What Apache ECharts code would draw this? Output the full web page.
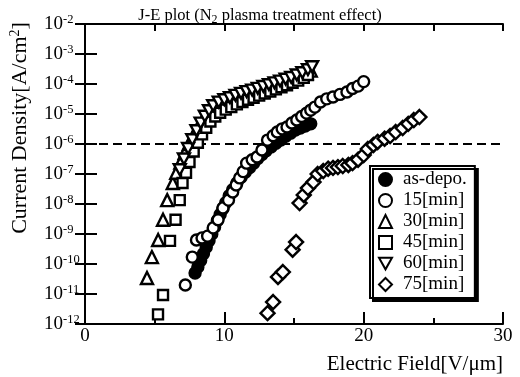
<!DOCTYPE html>
<html>
<head>
<meta charset="utf-8">
<script src="https://cdn.jsdelivr.net/npm/echarts@6/dist/echarts.min.js"></script>
<style>
  html, body { margin: 0; padding: 0; background: #fff; }
  #chart { width: 520px; height: 377px; }
</style>
</head>
<body>
<div id="chart"></div>
<script>
// J-E data, [E (V/um), J (A/cm2)]
const asDepo = [
  [7.9, 5.0e-11], [8.1, 8e-11], [8.3, 1.3e-10], [8.5, 2.2e-10], [8.7, 3.6e-10],
  [8.9, 6e-10], [9.1, 1.0e-9], [9.3, 1.7e-9], [9.5, 2.8e-9], [9.7, 4.5e-9],
  [9.9, 7e-9], [10.1, 1.1e-8], [10.35, 1.9e-8], [10.6, 3.0e-8], [10.9, 5.0e-8],
  [11.2, 7.8e-8], [11.5, 1.15e-7], [11.8, 1.6e-7], [12.1, 2.3e-7], [12.4, 3.3e-7],
  [12.7, 4.5e-7], [13.0, 6.0e-7], [13.35, 8.0e-7], [13.7, 1.05e-6], [14.05, 1.35e-6],
  [14.4, 1.8e-6], [14.75, 2.3e-6], [15.1, 2.9e-6], [15.45, 3.4e-6], [15.8, 4.0e-6],
  [16.2, 4.7e-6]
];
const min15 = [
  [7.2, 2.0e-11], [7.7, 1.7e-10], [8.0, 6.3e-10], [8.4, 7.4e-10], [8.8, 8.5e-10],
  [9.2, 1.6e-9], [9.55, 3.0e-9], [9.9, 7.4e-9], [10.3, 1.35e-8], [10.6, 2.5e-8],
  [10.85, 4.3e-8], [11.1, 7.4e-8], [11.35, 1.2e-7], [11.6, 2.3e-7], [12.0, 3.0e-7],
  [12.35, 3.7e-7], [12.7, 6.3e-7], [13.1, 1.35e-6], [13.5, 1.9e-6], [13.8, 2.5e-6],
  [14.15, 3.2e-6], [14.5, 3.7e-6], [14.85, 5.0e-6], [15.2, 6.3e-6], [15.55, 8.3e-6],
  [15.9, 1.07e-5], [16.2, 1.35e-5], [16.5, 1.7e-5], [16.9, 2.5e-5], [17.35, 3.2e-5],
  [17.8, 3.7e-5], [18.3, 4.5e-5], [18.8, 5.4e-5], [19.2, 7.1e-5], [19.6, 8.5e-5],
  [20.0, 1.2e-4]
];
const min30 = [
  [4.45, 3.4e-11], [4.8, 1.7e-10], [5.25, 6.3e-10], [5.6, 3.0e-9], [5.9, 1.35e-8],
  [6.3, 5.0e-8], [6.55, 1.1e-7], [6.85, 2.4e-7], [7.15, 5.0e-7], [7.45, 1.0e-6],
  [7.75, 1.8e-6], [8.05, 3.2e-6], [8.4, 5.6e-6], [8.75, 9.3e-6], [9.1, 1.35e-5],
  [9.5, 1.8e-5], [9.9, 2.2e-5], [10.3, 2.6e-5], [10.7, 3.2e-5], [11.1, 3.7e-5],
  [11.5, 4.3e-5], [11.9, 5.0e-5], [12.3, 5.6e-5], [12.7, 6.5e-5], [13.1, 7.4e-5],
  [13.5, 8.5e-5], [13.9, 9.8e-5], [14.3, 1.12e-4], [14.7, 1.32e-4], [15.1, 1.58e-4],
  [15.5, 1.9e-4], [15.9, 2.3e-4], [16.2, 2.8e-4]
];
const min45 = [
  [5.24, 2.1e-12], [5.6, 9.3e-12], [6.1, 5.9e-10], [6.5, 3.0e-9], [6.8, 1.35e-8],
  [7.0, 5.0e-8], [7.25, 1.1e-7], [7.5, 2.5e-7], [7.8, 5.6e-7], [8.1, 1.1e-6],
  [8.4, 2.1e-6], [8.7, 3.5e-6], [9.0, 5.6e-6], [9.35, 8.3e-6], [9.7, 1.1e-5],
  [10.1, 1.4e-5], [10.5, 1.7e-5], [10.9, 2.1e-5], [11.3, 2.5e-5], [11.7, 3.0e-5],
  [12.1, 3.5e-5], [12.5, 4.1e-5], [12.9, 4.8e-5], [13.3, 5.6e-5], [13.7, 6.6e-5],
  [14.1, 7.8e-5], [14.5, 9.1e-5], [14.9, 1.1e-4], [15.3, 1.3e-4], [15.7, 1.6e-4],
  [16.0, 2.0e-4]
];
const min60 = [
  [6.8, 1.4e-7], [7.1, 3.2e-7], [7.4, 7.1e-7], [7.7, 1.4e-6], [8.0, 2.8e-6],
  [8.3, 5.0e-6], [8.6, 8.5e-6], [8.9, 1.3e-5], [9.2, 1.9e-5], [9.6, 2.5e-5],
  [10.0, 3.0e-5], [10.4, 3.5e-5], [10.8, 4.2e-5], [11.2, 4.9e-5], [11.6, 5.6e-5],
  [12.0, 6.3e-5], [12.4, 7.2e-5], [12.8, 8.3e-5], [13.2, 9.5e-5], [13.6, 1.1e-4],
  [14.0, 1.26e-4], [14.4, 1.45e-4], [14.8, 1.66e-4], [15.2, 2.0e-4], [15.6, 2.4e-4],
  [16.0, 3.0e-4], [16.3, 3.8e-4]
];
const min75 = [
  [13.1, 2.3e-12], [13.5, 5.4e-12], [13.85, 3.7e-11], [14.2, 5.4e-11], [14.9, 3.0e-10],
  [15.15, 5.4e-10], [15.4, 1.07e-8], [15.7, 2.0e-8], [16.0, 3.4e-8], [16.4, 5.4e-8],
  [16.7, 1.0e-7], [17.1, 1.26e-7], [17.45, 1.5e-7], [17.8, 1.6e-7], [18.15, 1.7e-7],
  [18.5, 1.85e-7], [18.9, 2.0e-7], [19.2, 2.3e-7], [19.6, 3.0e-7], [20.0, 4.3e-7],
  [20.3, 6.8e-7], [20.7, 9.3e-7], [21.0, 1.17e-6], [21.5, 1.5e-6], [21.9, 1.85e-6],
  [22.3, 2.5e-6], [22.8, 3.4e-6], [23.2, 4.7e-6], [23.6, 6.3e-6], [24.0, 7.9e-6]
];
const seriesNames = ['as-depo.', '15[min]', '30[min]', '45[min]', '60[min]', '75[min]'];
const thresholdJ = 1e-6;
const xRange = [0, 30];
const xTicks = [0, 10, 20, 30];

const serif = "'Liberation Serif', 'Times New Roman', serif";
const downTri = 'path://M0,0L10,0L5,9Z';
const chart = echarts.init(document.getElementById('chart'), null, { renderer: 'canvas' });

// marker style helper
function mk(name, data, symbol, size, filled) {
  return {
    name: name,
    type: 'scatter',
    data: data,
    symbol: symbol,
    symbolSize: size,
    symbolKeepAspect: true,
    z: 3,
    itemStyle: {
      color: filled ? '#000' : '#fff',
      borderColor: '#000',
      borderWidth: 2.4,
      opacity: 1
    },
    emphasis: { disabled: true }
  };
}

const series = [
  {
    // dashed 1e-6 guide line
    name: 'threshold',
    type: 'line',
    data: [[xRange[0], thresholdJ], [xRange[1], thresholdJ]],
    symbol: 'none',
    silent: true,
    z: 2,
    lineStyle: { color: '#000', type: [9, 5], width: 2 }
  },
  mk(seriesNames[0], asDepo, 'circle', 11, true),
  mk(seriesNames[1], min15, 'circle', 11, false),
  mk(seriesNames[2], min30, 'triangle', 12, false),
  mk(seriesNames[3], min45, 'rect', 10, false),
  mk(seriesNames[4], min60, downTri, 12, false),
  mk(seriesNames[5], min75, 'diamond', 14, false)
];

const option = {
  animation: false,
  backgroundColor: '#fff',
  title: {
    text: '{t|J-E plot (N}{s|2}{t| plasma treatment effect)}',
    left: 'center',
    top: 1,
    textStyle: {
      rich: {
        t: { fontFamily: serif, fontSize: 16.5, color: '#000', fontWeight: 'normal' },
        s: { fontFamily: serif, fontSize: 12, color: '#000', fontWeight: 'normal', padding: [8, 0, 0, 0] }
      }
    }
  },
  legend: {
    data: seriesNames.map(function (n, i) {
      return i === 4 ? { name: n, icon: downTri } : { name: n };
    }),
    orient: 'vertical',
    left: 370,
    top: 166,
    padding: [4, 8, 4, 8],
    itemWidth: 13,
    itemHeight: 13,
    itemGap: 2,
    backgroundColor: '#fff',
    borderColor: '#000',
    borderWidth: 2,
    borderRadius: 0,
    shadowColor: '#000',
    shadowOffsetX: 3,
    shadowOffsetY: 3,
    shadowBlur: 0,
    textStyle: { fontFamily: serif, fontSize: 19, lineHeight: 19, color: '#000', padding: [0, 0, 0, 6] }
  },
  grid: { left: 85, right: 17, top: 24, bottom: 53, show: false, containLabel: false, outerBoundsMode: 'none' },
  graphic: [
    {
      type: 'text',
      x: 20,
      y: 128,
      rotation: Math.PI / 2,
      style: {
        text: '{a|Current Density[A/cm}{p|2}{a|]}',
        align: 'center',
        verticalAlign: 'middle',
        rich: {
          a: { fontFamily: serif, fontSize: 22, fill: '#000', color: '#000' },
          p: { fontFamily: serif, fontSize: 14, fill: '#000', color: '#000', padding: [0, 0, 10, 0] }
        }
      }
    }
  ],
  xAxis: [
    {
      type: 'value',
      min: xRange[0],
      max: xRange[1],
      interval: 10,
      position: 'bottom',
      name: 'Electric Field[V/\u03bcm]',
      nameLocation: 'end',
      nameGap: 0,
      nameTextStyle: {
        fontFamily: serif, fontSize: 21, color: '#000',
        align: 'right', verticalAlign: 'top', padding: [30, 0, 0, 0]
      },
      axisLine: { lineStyle: { color: '#000', width: 2 } },
      axisTick: { inside: true, length: 12, lineStyle: { color: '#000', width: 2 } },
      minorTick: { show: true, splitNumber: 2, length: 6, lineStyle: { color: '#000', width: 2 } },
      splitLine: { show: false },
      axisLabel: {
        fontFamily: serif, fontSize: 19, color: '#000', margin: 3,
        formatter: function (v) { return xTicks.indexOf(v) >= 0 ? String(v) : ''; }
      }
    },
    {
      type: 'value',
      min: xRange[0],
      max: xRange[1],
      interval: 5,
      position: 'top',
      axisLine: { lineStyle: { color: '#000', width: 2 } },
      axisTick: { inside: true, length: 7, lineStyle: { color: '#000', width: 2 } },
      splitLine: { show: false },
      axisLabel: { show: false }
    }
  ],
  yAxis: [
    {
      type: 'log',
      logBase: 10,
      min: 1e-12,
      max: 1e-2,
      interval: 1,
      position: 'left',
      axisLine: { lineStyle: { color: '#000', width: 2 } },
      axisTick: { inside: true, length: 12, lineStyle: { color: '#000', width: 2 } },
      splitLine: { show: false },
      axisLabel: {
        align: 'left',
        margin: 41,
        formatter: function (v) {
          return '{b|10}{e|' + Math.round(Math.log10(v)) + '}';
        },
        rich: {
          b: { fontFamily: serif, fontSize: 19, color: '#000' },
          e: { fontFamily: serif, fontSize: 12.5, color: '#000', padding: [0, 0, 9, 0] }
        }
      }
    },
    {
      type: 'log',
      logBase: 10,
      min: 1e-12,
      max: 1e-2,
      interval: 1,
      position: 'right',
      axisLine: { lineStyle: { color: '#000', width: 2 } },
      axisTick: { inside: true, length: 10, lineStyle: { color: '#000', width: 2 } },
      splitLine: { show: false },
      axisLabel: { show: false }
    }
  ],
  series: series
};

chart.setOption(option);
</script>
</body>
</html>
